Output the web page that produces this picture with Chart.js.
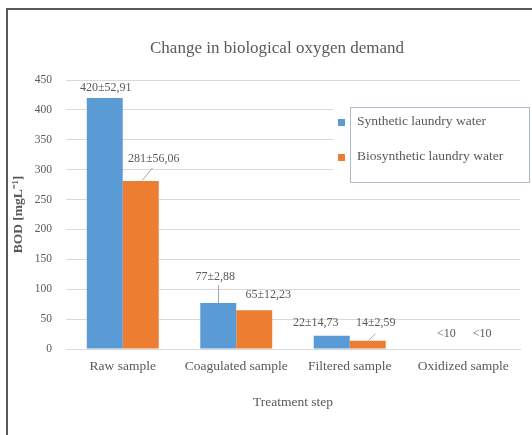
<!DOCTYPE html>
<html>
<head>
<meta charset="utf-8">
<script src="https://cdn.jsdelivr.net/npm/chart.js@4.4.1/dist/chart.umd.min.js"></script>
<style>
  html, body { margin: 0; padding: 0; background: #ffffff; overflow: hidden; }
  #wrap { position: relative; width: 532px; height: 435px; }
  #frame { position: absolute; left: 6px; top: 8px; width: 600px; height: 500px;
           border-left: 2px solid #5a5a5a; border-top: 2px solid #5a5a5a; pointer-events: none; }
  canvas { position: absolute; left: 0; top: 0; }
</style>
</head>
<body>
<div id="wrap">
  <canvas id="c" width="532" height="435"></canvas>
  <div id="frame"></div>
</div>
<script>
// ---- data ----
const categories = ['Raw sample', 'Coagulated sample', 'Filtered sample', 'Oxidized sample'];
const seriesNames = ['Synthetic laundry water', 'Biosynthetic laundry water'];
const syntheticValues = [420, 77, 22, 0];
const biosyntheticValues = [281, 65, 14, 0];
const syntheticLabels = ['420\u00B152,91', '77\u00B12,88', '22\u00B114,73', '<10'];
const biosyntheticLabels = ['281\u00B156,06', '65\u00B112,23', '14\u00B12,59', '<10'];
const yMin = 0, yMax = 450, yStep = 50;
const chartTitle = 'Change in biological oxygen demand';
const xTitle = 'Treatment step';
const yTitle = 'BOD [mgL\u207B\u00B9]';

// ---- styling ----
const SERIF = '"Liberation Serif", "Times New Roman", serif';
const TEXT = '#595959';
const GRID = '#d9d9d9';
const BLUE = '#5b9bd5';
const ORANGE = '#ed7d31';

// label placement relative to bar top centre (dx, dy) and optional leader line
const labelPlacement = [
  [ {dx: 1, dy: -10}, {dx: -3, dy: -26, leader: [0, 0, 0, -18]}, {dx: -16, dy: -13}, {dx: 1, dy: -15} ],
  [ {dx: 13, dy: -22, leader: [1, -1, 11, -13]}, {dx: 14, dy: -15}, {dx: 8, dy: -18, leader: [0, 0, 7, -7]}, {dx: 1, dy: -15} ]
];
const allLabels = [syntheticLabels, biosyntheticLabels];

const decorPlugin = {
  id: 'decor',
  afterDatasetsDraw(chart) {
    const ctx = chart.ctx;
    ctx.save();
    // data labels
    ctx.font = '12px ' + SERIF;
    ctx.textAlign = 'center';
    ctx.textBaseline = 'middle';
    chart.data.datasets.forEach((ds, di) => {
      const meta = chart.getDatasetMeta(di);
      meta.data.forEach((bar, i) => {
        const p = labelPlacement[di][i];
        if (p.leader) {
          ctx.strokeStyle = '#a6a6a6';
          ctx.lineWidth = 1;
          ctx.beginPath();
          ctx.moveTo(Math.round(bar.x + p.leader[0]) + 0.5, bar.y + p.leader[1]);
          ctx.lineTo(Math.round(bar.x + p.leader[2]) + 0.5, bar.y + p.leader[3]);
          ctx.stroke();
        }
        ctx.fillStyle = TEXT;
        ctx.fillText(allLabels[di][i], bar.x + p.dx, bar.y + p.dy);
      });
    });
    // legend
    ctx.fillStyle = '#ffffff';
    ctx.fillRect(333, 101, 199, 86);
    ctx.strokeStyle = '#a9bccd';
    ctx.lineWidth = 1;
    ctx.strokeRect(350.5, 107.5, 179, 75);
    const legendRows = [122, 157];
    ctx.font = '13.5px ' + SERIF;
    ctx.textAlign = 'left';
    ctx.textBaseline = 'middle';
    chart.data.datasets.forEach((ds, di) => {
      ctx.fillStyle = ds.backgroundColor;
      ctx.fillRect(338, legendRows[di] - 3, 7, 7);
      ctx.fillStyle = TEXT;
      ctx.fillText(ds.label, 357, legendRows[di] - 1);
    });
    // title
    ctx.font = '17px ' + SERIF;
    ctx.textAlign = 'center';
    ctx.fillStyle = TEXT;
    ctx.fillText(chartTitle, 277, 49);
    ctx.restore();
  }
};

new Chart(document.getElementById('c'), {
  type: 'bar',
  data: {
    labels: categories,
    datasets: [
      { label: seriesNames[0], data: syntheticValues, backgroundColor: BLUE,
        categoryPercentage: 0.634, barPercentage: 1.0 },
      { label: seriesNames[1], data: biosyntheticValues, backgroundColor: ORANGE,
        categoryPercentage: 0.634, barPercentage: 1.0 }
    ]
  },
  options: {
    responsive: false,
    animation: false,
    devicePixelRatio: 1,
    layout: { padding: { top: 80, right: 12, left: 0, bottom: 0 } },
    plugins: {
      legend: { display: false },
      title: { display: false },
      tooltip: { enabled: false }
    },
    scales: {
      x: {
        grid: { display: false, drawTicks: false },
        border: { display: true, color: GRID, width: 1 },
        ticks: { color: TEXT, font: { family: SERIF, size: 13.5 }, padding: 9, maxRotation: 0 },
        title: { display: true, text: xTitle, color: TEXT, font: { family: SERIF, size: 13.5 },
                 padding: { top: 0, bottom: 24 } },
        afterFit(scale) { scale.height = 86; }
      },
      y: {
        min: yMin, max: yMax,
        grid: { color: GRID, drawTicks: false },
        border: { display: false },
        ticks: { stepSize: yStep, color: TEXT, font: { family: SERIF, size: 11.5 }, padding: 14 },
        title: { display: true, text: yTitle, color: TEXT, font: { family: SERIF, size: 13.5, weight: 'bold' },
                 padding: { top: 10, bottom: 0 } },
        afterFit(scale) { scale.width = 66; }
      }
    }
  },
  plugins: [decorPlugin]
});
</script>
</body>
</html>
